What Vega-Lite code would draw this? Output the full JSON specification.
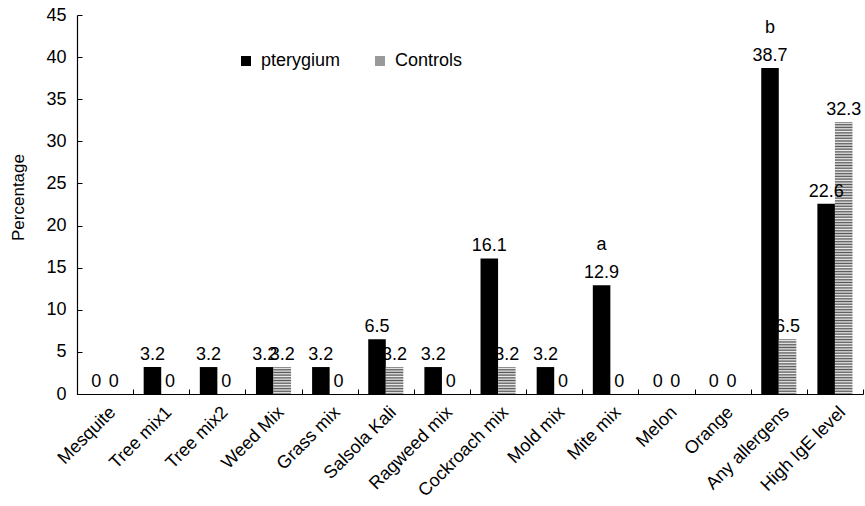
{
  "$schema": "https://vega.github.io/schema/vega-lite/v6.json",
  "autosize": "none",
  "width": 786,
  "height": 379,
  "padding": {"left": 77, "top": 15, "right": 2, "bottom": 112},
  "background": "white",
  "config": {
    "view": {"stroke": null},
    "font": "Liberation Sans",
    "axis": {"domainColor": "black", "tickColor": "black", "labelColor": "black", "titleColor": "black", "labelFont": "Liberation Sans", "titleFont": "Liberation Sans", "labelFontSize": 18, "titleFontSize": 17, "titleFontWeight": "normal", "grid": false}
  },
  "data": {"values": [
    {"allergen": "Mesquite", "group": "pterygium", "value": 0},
    {"allergen": "Mesquite", "group": "Controls", "value": 0},
    {"allergen": "Tree mix1", "group": "pterygium", "value": 3.2},
    {"allergen": "Tree mix1", "group": "Controls", "value": 0},
    {"allergen": "Tree mix2", "group": "pterygium", "value": 3.2},
    {"allergen": "Tree mix2", "group": "Controls", "value": 0},
    {"allergen": "Weed Mix", "group": "pterygium", "value": 3.2},
    {"allergen": "Weed Mix", "group": "Controls", "value": 3.2},
    {"allergen": "Grass mix", "group": "pterygium", "value": 3.2},
    {"allergen": "Grass mix", "group": "Controls", "value": 0},
    {"allergen": "Salsola Kali", "group": "pterygium", "value": 6.5},
    {"allergen": "Salsola Kali", "group": "Controls", "value": 3.2},
    {"allergen": "Ragweed mix", "group": "pterygium", "value": 3.2},
    {"allergen": "Ragweed mix", "group": "Controls", "value": 0},
    {"allergen": "Cockroach mix", "group": "pterygium", "value": 16.1},
    {"allergen": "Cockroach mix", "group": "Controls", "value": 3.2},
    {"allergen": "Mold mix", "group": "pterygium", "value": 3.2},
    {"allergen": "Mold mix", "group": "Controls", "value": 0},
    {"allergen": "Mite mix", "group": "pterygium", "value": 12.9, "sig": "a"},
    {"allergen": "Mite mix", "group": "Controls", "value": 0},
    {"allergen": "Melon", "group": "pterygium", "value": 0},
    {"allergen": "Melon", "group": "Controls", "value": 0},
    {"allergen": "Orange", "group": "pterygium", "value": 0},
    {"allergen": "Orange", "group": "Controls", "value": 0},
    {"allergen": "Any allergens", "group": "pterygium", "value": 38.7, "sig": "b"},
    {"allergen": "Any allergens", "group": "Controls", "value": 6.5},
    {"allergen": "High IgE level", "group": "pterygium", "value": 22.6},
    {"allergen": "High IgE level", "group": "Controls", "value": 32.3}
  ]},
  "encoding": {
    "x": {"field": "allergen", "type": "nominal", "sort": null, "scale": {"paddingInner": 0, "paddingOuter": 0},
      "axis": {"title": null, "labelAngle": -45, "labelFontSize": 18, "tickBand": "extent", "tickSize": -5, "labelPadding": 14, "labelOffset": 1, "domainWidth": 1.2}},
    "xOffset": {"field": "group", "type": "nominal", "sort": ["pterygium", "Controls"], "scale": {"domain": ["pterygium", "Controls"], "paddingOuter": 0.6, "paddingInner": 0}}
  },
  "layer": [
    {
      "mark": {"type": "bar"},
      "encoding": {
        "y": {"field": "value", "type": "quantitative", "scale": {"domain": [0, 45], "nice": false},
          "axis": {"title": "Percentage", "values": [0,5,10,15,20,25,30,35,40,45], "labelFontSize": 18, "tickSize": -5, "labelPadding": 16, "domainWidth": 1.2, "titleX": -59, "titleY": 182, "titleAlign": "center", "titleBaseline": "middle", "titleAngle": -90}},
        "fill": {
          "field": "group", "type": "nominal",
          "scale": {"domain": ["pterygium", "Controls"], "range": ["black", "#999999"]},
          "condition": [
            {"test": "datum.group === 'Controls' && datum.value > 30", "value": {"gradient": "linear", "x1": 0, "y1": 0, "x2": 0, "y2": 1, "stops": [
{"offset":0,"color":"#555"},{"offset":0.005,"color":"#eee"},{"offset":0.01,"color":"#555"},{"offset":0.015,"color":"#eee"},{"offset":0.02,"color":"#555"},{"offset":0.025,"color":"#eee"},{"offset":0.03,"color":"#555"},{"offset":0.035,"color":"#eee"},{"offset":0.04,"color":"#555"},{"offset":0.045,"color":"#eee"},
{"offset":0.05,"color":"#555"},{"offset":0.055,"color":"#eee"},{"offset":0.06,"color":"#555"},{"offset":0.065,"color":"#eee"},{"offset":0.07,"color":"#555"},{"offset":0.075,"color":"#eee"},{"offset":0.08,"color":"#555"},{"offset":0.085,"color":"#eee"},{"offset":0.09,"color":"#555"},{"offset":0.095,"color":"#eee"},
{"offset":0.1,"color":"#555"},{"offset":0.105,"color":"#eee"},{"offset":0.11,"color":"#555"},{"offset":0.115,"color":"#eee"},{"offset":0.12,"color":"#555"},{"offset":0.125,"color":"#eee"},{"offset":0.13,"color":"#555"},{"offset":0.135,"color":"#eee"},{"offset":0.14,"color":"#555"},{"offset":0.145,"color":"#eee"},
{"offset":0.15,"color":"#555"},{"offset":0.155,"color":"#eee"},{"offset":0.16,"color":"#555"},{"offset":0.165,"color":"#eee"},{"offset":0.17,"color":"#555"},{"offset":0.175,"color":"#eee"},{"offset":0.18,"color":"#555"},{"offset":0.185,"color":"#eee"},{"offset":0.19,"color":"#555"},{"offset":0.195,"color":"#eee"},
{"offset":0.2,"color":"#555"},{"offset":0.205,"color":"#eee"},{"offset":0.21,"color":"#555"},{"offset":0.215,"color":"#eee"},{"offset":0.22,"color":"#555"},{"offset":0.225,"color":"#eee"},{"offset":0.23,"color":"#555"},{"offset":0.235,"color":"#eee"},{"offset":0.24,"color":"#555"},{"offset":0.245,"color":"#eee"},
{"offset":0.25,"color":"#555"},{"offset":0.255,"color":"#eee"},{"offset":0.26,"color":"#555"},{"offset":0.265,"color":"#eee"},{"offset":0.27,"color":"#555"},{"offset":0.275,"color":"#eee"},{"offset":0.28,"color":"#555"},{"offset":0.285,"color":"#eee"},{"offset":0.29,"color":"#555"},{"offset":0.295,"color":"#eee"},
{"offset":0.3,"color":"#555"},{"offset":0.305,"color":"#eee"},{"offset":0.31,"color":"#555"},{"offset":0.315,"color":"#eee"},{"offset":0.32,"color":"#555"},{"offset":0.325,"color":"#eee"},{"offset":0.33,"color":"#555"},{"offset":0.335,"color":"#eee"},{"offset":0.34,"color":"#555"},{"offset":0.345,"color":"#eee"},
{"offset":0.35,"color":"#555"},{"offset":0.355,"color":"#eee"},{"offset":0.36,"color":"#555"},{"offset":0.365,"color":"#eee"},{"offset":0.37,"color":"#555"},{"offset":0.375,"color":"#eee"},{"offset":0.38,"color":"#555"},{"offset":0.385,"color":"#eee"},{"offset":0.39,"color":"#555"},{"offset":0.395,"color":"#eee"},
{"offset":0.4,"color":"#555"},{"offset":0.405,"color":"#eee"},{"offset":0.41,"color":"#555"},{"offset":0.415,"color":"#eee"},{"offset":0.42,"color":"#555"},{"offset":0.425,"color":"#eee"},{"offset":0.43,"color":"#555"},{"offset":0.435,"color":"#eee"},{"offset":0.44,"color":"#555"},{"offset":0.445,"color":"#eee"},
{"offset":0.45,"color":"#555"},{"offset":0.455,"color":"#eee"},{"offset":0.46,"color":"#555"},{"offset":0.465,"color":"#eee"},{"offset":0.47,"color":"#555"},{"offset":0.475,"color":"#eee"},{"offset":0.48,"color":"#555"},{"offset":0.485,"color":"#eee"},{"offset":0.49,"color":"#555"},{"offset":0.495,"color":"#eee"},
{"offset":0.5,"color":"#555"},{"offset":0.505,"color":"#eee"},{"offset":0.51,"color":"#555"},{"offset":0.515,"color":"#eee"},{"offset":0.52,"color":"#555"},{"offset":0.525,"color":"#eee"},{"offset":0.53,"color":"#555"},{"offset":0.535,"color":"#eee"},{"offset":0.54,"color":"#555"},{"offset":0.545,"color":"#eee"},
{"offset":0.55,"color":"#555"},{"offset":0.555,"color":"#eee"},{"offset":0.56,"color":"#555"},{"offset":0.565,"color":"#eee"},{"offset":0.57,"color":"#555"},{"offset":0.575,"color":"#eee"},{"offset":0.58,"color":"#555"},{"offset":0.585,"color":"#eee"},{"offset":0.59,"color":"#555"},{"offset":0.595,"color":"#eee"},
{"offset":0.6,"color":"#555"},{"offset":0.605,"color":"#eee"},{"offset":0.61,"color":"#555"},{"offset":0.615,"color":"#eee"},{"offset":0.62,"color":"#555"},{"offset":0.625,"color":"#eee"},{"offset":0.63,"color":"#555"},{"offset":0.635,"color":"#eee"},{"offset":0.64,"color":"#555"},{"offset":0.645,"color":"#eee"},
{"offset":0.65,"color":"#555"},{"offset":0.655,"color":"#eee"},{"offset":0.66,"color":"#555"},{"offset":0.665,"color":"#eee"},{"offset":0.67,"color":"#555"},{"offset":0.675,"color":"#eee"},{"offset":0.68,"color":"#555"},{"offset":0.685,"color":"#eee"},{"offset":0.69,"color":"#555"},{"offset":0.695,"color":"#eee"},
{"offset":0.7,"color":"#555"},{"offset":0.705,"color":"#eee"},{"offset":0.71,"color":"#555"},{"offset":0.715,"color":"#eee"},{"offset":0.72,"color":"#555"},{"offset":0.725,"color":"#eee"},{"offset":0.73,"color":"#555"},{"offset":0.735,"color":"#eee"},{"offset":0.74,"color":"#555"},{"offset":0.745,"color":"#eee"},
{"offset":0.75,"color":"#555"},{"offset":0.755,"color":"#eee"},{"offset":0.76,"color":"#555"},{"offset":0.765,"color":"#eee"},{"offset":0.77,"color":"#555"},{"offset":0.775,"color":"#eee"},{"offset":0.78,"color":"#555"},{"offset":0.785,"color":"#eee"},{"offset":0.79,"color":"#555"},{"offset":0.795,"color":"#eee"},
{"offset":0.8,"color":"#555"},{"offset":0.805,"color":"#eee"},{"offset":0.81,"color":"#555"},{"offset":0.815,"color":"#eee"},{"offset":0.82,"color":"#555"},{"offset":0.825,"color":"#eee"},{"offset":0.83,"color":"#555"},{"offset":0.835,"color":"#eee"},{"offset":0.84,"color":"#555"},{"offset":0.845,"color":"#eee"},
{"offset":0.85,"color":"#555"},{"offset":0.855,"color":"#eee"},{"offset":0.86,"color":"#555"},{"offset":0.865,"color":"#eee"},{"offset":0.87,"color":"#555"},{"offset":0.875,"color":"#eee"},{"offset":0.88,"color":"#555"},{"offset":0.885,"color":"#eee"},{"offset":0.89,"color":"#555"},{"offset":0.895,"color":"#eee"},
{"offset":0.9,"color":"#555"},{"offset":0.905,"color":"#eee"},{"offset":0.91,"color":"#555"},{"offset":0.915,"color":"#eee"},{"offset":0.92,"color":"#555"},{"offset":0.925,"color":"#eee"},{"offset":0.93,"color":"#555"},{"offset":0.935,"color":"#eee"},{"offset":0.94,"color":"#555"},{"offset":0.945,"color":"#eee"},
{"offset":0.95,"color":"#555"},{"offset":0.955,"color":"#eee"},{"offset":0.96,"color":"#555"},{"offset":0.965,"color":"#eee"},{"offset":0.97,"color":"#555"},{"offset":0.975,"color":"#eee"},{"offset":0.98,"color":"#555"},{"offset":0.985,"color":"#eee"},{"offset":0.99,"color":"#555"},{"offset":0.995,"color":"#eee"},
{"offset":1,"color":"#555"}
            ]}},
            {"test": "datum.group === 'Controls' && datum.value > 5", "value": {"gradient": "linear", "x1": 0, "y1": 0, "x2": 0, "y2": 1, "stops": [
{"offset":0,"color":"#555"},{"offset":0.025,"color":"#eee"},{"offset":0.05,"color":"#555"},{"offset":0.075,"color":"#eee"},{"offset":0.1,"color":"#555"},{"offset":0.125,"color":"#eee"},{"offset":0.15,"color":"#555"},{"offset":0.175,"color":"#eee"},{"offset":0.2,"color":"#555"},{"offset":0.225,"color":"#eee"},
{"offset":0.25,"color":"#555"},{"offset":0.275,"color":"#eee"},{"offset":0.3,"color":"#555"},{"offset":0.325,"color":"#eee"},{"offset":0.35,"color":"#555"},{"offset":0.375,"color":"#eee"},{"offset":0.4,"color":"#555"},{"offset":0.425,"color":"#eee"},{"offset":0.45,"color":"#555"},{"offset":0.475,"color":"#eee"},
{"offset":0.5,"color":"#555"},{"offset":0.525,"color":"#eee"},{"offset":0.55,"color":"#555"},{"offset":0.575,"color":"#eee"},{"offset":0.6,"color":"#555"},{"offset":0.625,"color":"#eee"},{"offset":0.65,"color":"#555"},{"offset":0.675,"color":"#eee"},{"offset":0.7,"color":"#555"},{"offset":0.725,"color":"#eee"},
{"offset":0.75,"color":"#555"},{"offset":0.775,"color":"#eee"},{"offset":0.8,"color":"#555"},{"offset":0.825,"color":"#eee"},{"offset":0.85,"color":"#555"},{"offset":0.875,"color":"#eee"},{"offset":0.9,"color":"#555"},{"offset":0.925,"color":"#eee"},{"offset":0.95,"color":"#555"},{"offset":0.975,"color":"#eee"},
{"offset":1,"color":"#555"}
            ]}},
            {"test": "datum.group === 'Controls'", "value": {"gradient": "linear", "x1": 0, "y1": 0, "x2": 0, "y2": 1, "stops": [
{"offset":0,"color":"#555"},{"offset":0.05,"color":"#eee"},{"offset":0.1,"color":"#555"},{"offset":0.15,"color":"#eee"},{"offset":0.2,"color":"#555"},{"offset":0.25,"color":"#eee"},{"offset":0.3,"color":"#555"},{"offset":0.35,"color":"#eee"},{"offset":0.4,"color":"#555"},{"offset":0.45,"color":"#eee"},
{"offset":0.5,"color":"#555"},{"offset":0.55,"color":"#eee"},{"offset":0.6,"color":"#555"},{"offset":0.65,"color":"#eee"},{"offset":0.7,"color":"#555"},{"offset":0.75,"color":"#eee"},{"offset":0.8,"color":"#555"},{"offset":0.85,"color":"#eee"},{"offset":0.9,"color":"#555"},{"offset":0.95,"color":"#eee"},
{"offset":1,"color":"#555"}
            ]}}
          ],
          "legend": {
            "title": null, "orient": "none", "legendX": 160, "legendY": 37, "direction": "horizontal",
            "symbolType": "square", "symbolSize": 100, "symbolStrokeWidth": 0, "labelFontSize": 18, "labelFont": "Liberation Sans", "labelColor": "black", "labelOffset": 6, "columnPadding": 30
          }
        }
      }
    },
    {
      "mark": {"type": "text", "baseline": "alphabetic", "dy": -7, "fontSize": 18, "font": "Liberation Sans", "color": "black"},
      "encoding": {
        "y": {"field": "value", "type": "quantitative"},
        "text": {"field": "value", "type": "quantitative"}
      }
    },
    {
      "transform": [{"filter": "isValid(datum.sig)"}],
      "mark": {"type": "text", "baseline": "alphabetic", "dy": -35, "fontSize": 18, "font": "Liberation Sans", "color": "black"},
      "encoding": {
        "y": {"field": "value", "type": "quantitative"},
        "text": {"field": "sig", "type": "nominal"}
      }
    }
  ]
}
